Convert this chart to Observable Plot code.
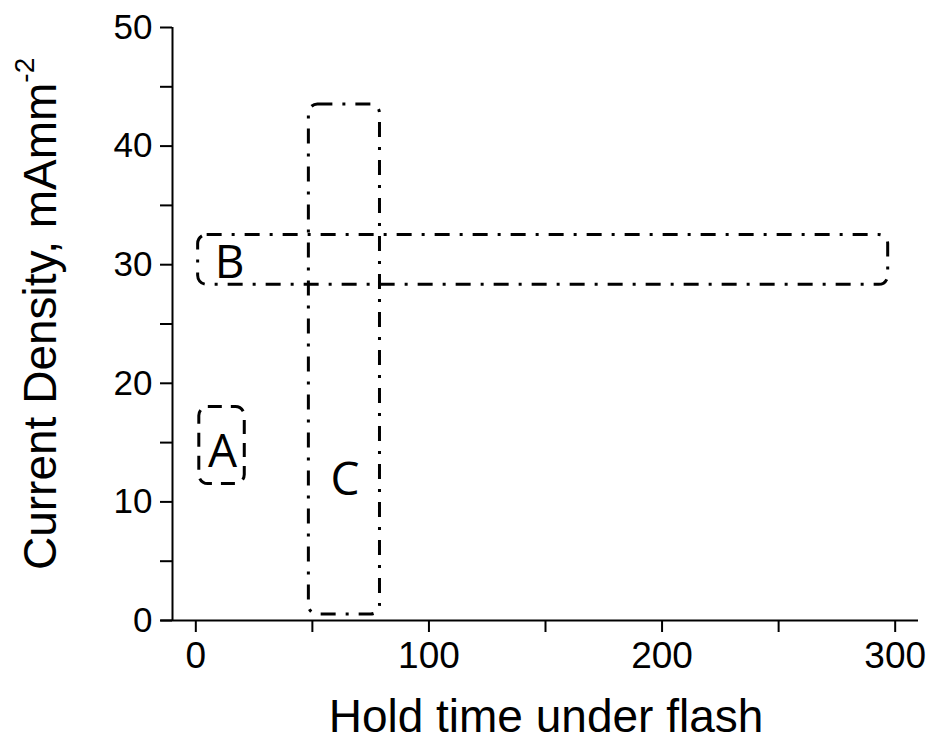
<!DOCTYPE html>
<html><head><meta charset="utf-8">
<script src="https://cdn.jsdelivr.net/npm/d3@7"></script>
<script src="https://cdn.jsdelivr.net/npm/@observablehq/plot@0.6"></script>
<style>body{margin:0;background:#fff;} svg{display:block;}</style>
</head><body><div id="chart"></div>
<script>
const boxNames = ["A", "B", "C"];
const boxX1 = [1.5, 1, 48.5];
const boxX2 = [21, 297, 79];
const boxY1 = [11.5, 28.3, 0.5];
const boxY2 = [18, 32.5, 43.5];
const labelX = [11.5, 14.5, 64];
const labelY = [14.2, 30.1, 11.8];
const boxDash = ["14,9", "15,10,3,10", "15,10,3,10"];

const xMajor = [0, 100, 200, 300];
const xMinor = [50, 150, 250];
const yMajor = [0, 10, 20, 30, 40, 50];
const yMinor = [5, 15, 25, 35, 45];

const boxes = boxNames.map((n, i) => ({name: n, x1: boxX1[i], x2: boxX2[i], y1: boxY1[i], y2: boxY2[i], lx: labelX[i], ly: labelY[i], dash: boxDash[i]}));

const marks = [];
boxes.forEach(b => {
  marks.push(Plot.rect([b], {x1: "x1", x2: "x2", y1: "y1", y2: "y2", fill: "none", stroke: "#000", strokeWidth: 3, strokeDasharray: b.dash, rx: 9}));
});
marks.push(Plot.text(boxes, {x: "lx", y: "ly", text: "name", fontSize: 46, fill: "#000", fontFamily: "'Open Sans', 'Noto Sans', sans-serif"}));
marks.push(Plot.ruleX([-10], {y1: 0, y2: 50, stroke: "#000", strokeWidth: 2}));
marks.push(Plot.ruleY([0], {x1: -15, x2: 310, stroke: "#000", strokeWidth: 2}));
marks.push(Plot.axisX({ticks: xMajor, tickSize: 12, tickPadding: 9, fontSize: 37, fontFamily: "'Liberation Sans', Arial, sans-serif", label: null, strokeWidth: 2}));
marks.push(Plot.axisX({ticks: xMinor, tickSize: 12, text: null, label: null, strokeWidth: 2}));
marks.push(Plot.axisY({ticks: yMajor, tickSize: 12, tickPadding: 8, fontSize: 35, fontFamily: "'Liberation Sans', Arial, sans-serif", label: null, strokeWidth: 2}));
marks.push(Plot.axisY({ticks: yMinor, tickSize: 12, text: null, label: null, strokeWidth: 2}));

const chart = Plot.plot({
  width: 928,
  height: 744,
  marginLeft: 172,
  marginRight: 10,
  marginTop: 27,
  marginBottom: 124,
  x: {domain: [-10, 310]},
  y: {domain: [0, 50]},
  style: {background: "#fff", color: "#000", overflow: "visible"},
  marks
});

const svg = d3.select(chart);
svg.append("text")
  .attr("x", 546).attr("y", 732)
  .attr("text-anchor", "middle")
  .attr("font-family", "'Liberation Sans', Arial, sans-serif")
  .attr("font-size", 46)
  .attr("fill", "#000")
  .text("Hold time under flash");
const yl = svg.append("text")
  .attr("transform", "translate(56,570) rotate(-90)")
  .attr("text-anchor", "start")
  .attr("font-family", "'Liberation Sans', Arial, sans-serif")
  .attr("font-size", 46)
  .attr("fill", "#000");
yl.append("tspan").text("Current Density, mAmm");
yl.append("tspan").attr("dy", -22).attr("font-size", 28).text("-2");

document.getElementById("chart").appendChild(chart);
</script>
</body></html>
